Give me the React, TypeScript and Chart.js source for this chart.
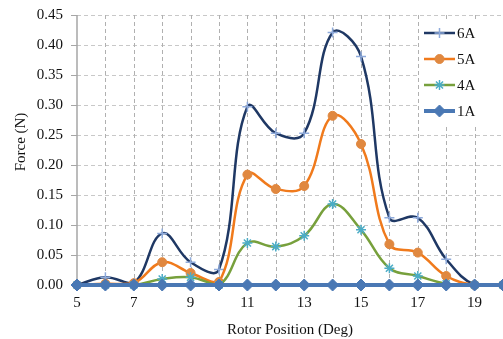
import React, { useEffect, useRef } from "react";
import { Chart, registerables } from "chart.js";
import { drawPoint } from "chart.js/helpers";

Chart.register(...registerables);

const positions = [5, 6, 7, 8, 9, 10, 11, 12, 13, 14, 15, 16, 17, 18, 19, 20];
const force6A = [0, 0.013, 0.003, 0.086, 0.038, 0.026, 0.297, 0.253, 0.253, 0.421, 0.381, 0.112, 0.112, 0.043, 0, 0];
const force5A = [0, 0.002, 0.003, 0.038, 0.02, 0.005, 0.184, 0.16, 0.165, 0.282, 0.235, 0.068, 0.054, 0.015, 0, 0];
const force4A = [0, 0, 0, 0.01, 0.013, 0, 0.07, 0.064, 0.082, 0.135, 0.092, 0.028, 0.015, 0.002, 0, 0];
const force1A = [0, 0, 0, 0, 0, 0, 0, 0, 0, 0, 0, 0, 0, 0, 0, 0];
const labeledTicks = [5, 7, 9, 11, 13, 15, 17, 19];
const yTitle = "Force (N)";
const xTitle = "Rotor Position (Deg)";

const FONT = "'Liberation Serif', 'Times New Roman', serif";

const decorPlugin = {
  id: "decor",
  beforeDatasetsDraw(chart: any) {
    const ctx = chart.ctx;
    const a = chart.chartArea;
    const xs = chart.scales.x;
    const ys = chart.scales.y;
    ctx.save();
    ctx.lineWidth = 1;
    // horizontal dashed grid
    ctx.setLineDash([4, 3]);
    ctx.strokeStyle = "#c8c8c8";
    ys.ticks.forEach((t: any) => {
      if (t.value === 0) return;
      const y = Math.round(ys.getPixelForValue(t.value)) + 0.5;
      ctx.beginPath();
      ctx.moveTo(a.left, y);
      ctx.lineTo(a.right, y);
      ctx.stroke();
    });
    // vertical dashed grid
    ctx.strokeStyle = "#b0b0b0";
    xs.ticks.forEach((t: any) => {
      if (t.value === positions[0]) return;
      const x = Math.round(xs.getPixelForValue(t.value)) + 0.5;
      ctx.beginPath();
      ctx.moveTo(x, a.top);
      ctx.lineTo(x, a.bottom);
      ctx.stroke();
    });
    // y axis line and tick marks
    ctx.setLineDash([]);
    ctx.strokeStyle = "#a6a6a6";
    ctx.lineWidth = 1.5;
    ctx.beginPath();
    ctx.moveTo(a.left, a.top);
    ctx.lineTo(a.left, a.bottom);
    ctx.stroke();
    ctx.lineWidth = 1;
    ys.ticks.forEach((t: any) => {
      const y = Math.round(ys.getPixelForValue(t.value)) + 0.5;
      ctx.beginPath();
      ctx.moveTo(a.left - 6, y);
      ctx.lineTo(a.left, y);
      ctx.stroke();
    });
    // y title
    ctx.fillStyle = "#111";
    ctx.font = "15px " + FONT;
    ctx.textAlign = "center";
    ctx.textBaseline = "middle";
    ctx.translate(21, 142);
    ctx.rotate(-Math.PI / 2);
    ctx.fillText(yTitle, 0, 0);
    ctx.restore();
  },
  afterDatasetsDraw(chart: any) {
    const ctx = chart.ctx;
    const x0 = 424;
    const top = 33;
    const gap = 26;
    ctx.save();
    ctx.fillStyle = "#ffffff";
    ctx.fillRect(420, 19, 83, 106);
    chart.data.datasets.forEach((ds: any, i: number) => {
      const y = top + i * gap;
      ctx.strokeStyle = ds.borderColor;
      ctx.lineWidth = ds.borderWidth;
      ctx.setLineDash([]);
      ctx.beginPath();
      ctx.moveTo(x0, y);
      ctx.lineTo(x0 + 31, y);
      ctx.stroke();
      ctx.fillStyle = ds.pointBackgroundColor;
      ctx.strokeStyle = ds.pointBorderColor;
      ctx.lineWidth = ds.pointBorderWidth;
      drawPoint(ctx, { pointStyle: ds.pointStyle, radius: ds.pointRadius, borderWidth: ds.pointBorderWidth, rotation: 0 }, x0 + 15.5, y);
      ctx.fillStyle = "#111";
      ctx.font = "15px " + FONT;
      ctx.textAlign = "left";
      ctx.textBaseline = "middle";
      ctx.fillText(ds.label, x0 + 33, y + 1);
    });
    ctx.restore();
  },
};

export default function App() {
  const ref = useRef<HTMLCanvasElement>(null);
  useEffect(() => {
    document.body.style.margin = "0";
    const data = (vals: number[]) => positions.map((x, i) => ({ x, y: vals[i] }));
    const chart = new Chart(ref.current!, {
      type: "line",
      data: {
        datasets: [
          {
            label: "6A",
            data: data(force6A),
            borderColor: "#1f3864",
            borderWidth: 2.5,
            pointStyle: "cross",
            pointRadius: 5,
            pointBorderWidth: 1.5,
            pointBorderColor: "#8eaadb",
            pointBackgroundColor: "#8eaadb",
            tension: 0.4,
            order: 3,
            clip: false,
          },
          {
            label: "5A",
            data: data(force5A),
            borderColor: "#f07a1c",
            borderWidth: 2.5,
            pointStyle: "circle",
            pointRadius: 4.5,
            pointBorderWidth: 1,
            pointBorderColor: "#e08840",
            pointBackgroundColor: "#e08840",
            tension: 0.4,
            order: 2,
            clip: false,
          },
          {
            label: "4A",
            data: data(force4A),
            borderColor: "#77a03c",
            borderWidth: 2.5,
            pointStyle: "star",
            pointRadius: 5,
            pointBorderWidth: 1.5,
            pointBorderColor: "#4bacc6",
            pointBackgroundColor: "#4bacc6",
            tension: 0.4,
            order: 1,
            clip: false,
          },
          {
            label: "1A",
            data: data(force1A),
            borderColor: "#4a78b4",
            borderWidth: 4,
            pointStyle: "rectRot",
            pointRadius: 6,
            pointBorderWidth: 1,
            pointBorderColor: "#4a78b4",
            pointBackgroundColor: "#4a78b4",
            tension: 0.4,
            order: 0,
            clip: false,
          },
        ],
      },
      options: {
        animation: false,
        responsive: true,
        maintainAspectRatio: false,
        layout: { autoPadding: false, padding: { top: 15, right: 0, left: 0, bottom: 0 } },
        plugins: { legend: { display: false }, tooltip: { enabled: false } },
        scales: {
          x: {
            type: "linear",
            min: 5,
            max: 20,
            afterFit: (s: any) => { s.height = 54; },
            afterBuildTicks: (s: any) => { s.ticks = positions.map((v) => ({ value: v })); },
            ticks: {
              autoSkip: false,
              maxRotation: 0,
              padding: 0,
              color: "#111",
              font: { family: FONT, size: 15 },
              callback: (v: any) => (labeledTicks.includes(Number(v)) ? String(v) : ""),
            },
            grid: { display: true, drawOnChartArea: false, drawTicks: true, tickLength: 9, tickColor: "rgba(0,0,0,0)" },
            border: { display: false },
            title: { display: true, text: xTitle, color: "#111", font: { family: FONT, size: 15 }, padding: 0 },
          },
          y: {
            min: 0,
            max: 0.45,
            afterFit: (s: any) => { s.width = 77; },
            ticks: {
              stepSize: 0.05,
              padding: 0,
              color: "#111",
              font: { family: FONT, size: 15 },
              callback: (v: any) => Number(v).toFixed(2),
            },
            grid: { display: true, drawOnChartArea: false, drawTicks: true, tickLength: 14, tickColor: "rgba(0,0,0,0)" },
            border: { display: false },
            title: { display: false },
          },
        },
      },
      plugins: [decorPlugin],
    } as any);
    return () => chart.destroy();
  }, []);
  return (
    <div style={{ position: "relative", width: 503, height: 339 }}>
      <canvas ref={ref} />
    </div>
  );
}
